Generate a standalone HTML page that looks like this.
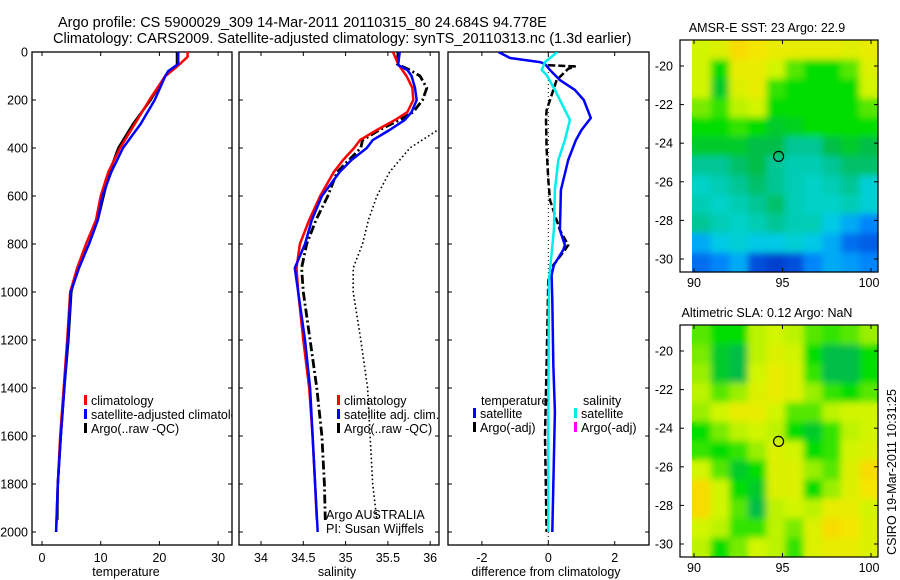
<!DOCTYPE html>
<html><head><meta charset="utf-8"><style>
html,body{margin:0;padding:0;background:#fff;}
svg{display:block;font-family:"Liberation Sans",sans-serif;}
</style></head><body>
<svg id="fig" width="900" height="580" viewBox="0 0 900 580" xmlns="http://www.w3.org/2000/svg">
<defs><filter id="smooth" x="-5%" y="-5%" width="110%" height="110%"><feGaussianBlur stdDeviation="3.5"/></filter></defs>
<rect width="900" height="580" fill="#fff"/>
<text x="58" y="27" font-size="14.5">Argo profile: CS 5900029_309 14-Mar-2011 20110315_80 24.684S 94.778E</text>
<text x="53" y="43" font-size="14.5">Climatology: CARS2009. Satellite-adjusted climatology: synTS_20110313.nc (1.3d earlier)</text>
<text x="767" y="32" font-size="12.5" text-anchor="middle">AMSR-E SST: 23 Argo: 22.9</text>
<text x="767" y="317" font-size="12.5" text-anchor="middle">Altimetric SLA: 0.12 Argo: NaN</text>
<text transform="translate(896,472) rotate(-90)" font-size="12.5" text-anchor="middle">CSIRO 19-Mar-2011 10:31:25</text>
<g id="layer"></g>
</svg>
<script>
// ---------- data ----------
const depthTicks = [0,200,400,600,800,1000,1200,1400,1600,1800,2000];
const tempTicks = [0,10,20,30];
const salTicks = [34,34.5,35,35.5,36];
const salTickLabels = ["34","34.5","35","35.5","36"];
const diffTicks = [-2,0,2];
const latTicks = [-20,-22,-24,-26,-28,-30];
const lonTicks = [90,95,100];

const tClimDepth = [0,20,50,100,200,300,400,500,600,700,800,900,1000,1200,1400,1600,1800,2000];
const tClim = [24.8,24.8,23.5,21,18.3,15.8,13.3,11.3,10,9.2,7.5,6,4.8,4.3,3.7,3.1,2.7,2.4];
const tSatDepth = [0,50,80,100,200,300,400,500,600,700,800,900,1000,1200,1400,1600,1800,2000];
const tSat = [23.2,23.2,21.5,21,19.2,16.8,13.8,11.8,10.3,9.5,8,6.3,4.9,4.4,3.8,3.2,2.7,2.4];
const tArgoDepth = [0,60,100,200,300,400,500,600,700,800,900,1000,1200,1400,1600,1800,1950];
const tArgo = [23,23,21,18.5,15.5,13,11.5,10.5,9.5,8,6,5,4.5,3.8,3.2,2.7,2.6];

const sClimDepth = [0,50,100,150,200,250,280,325,367,400,450,500,600,700,800,900,1000,1200,1400,1600,1800,1950];
const sClim = [35.56,35.62,35.72,35.79,35.8,35.73,35.6,35.37,35.17,35.1,34.97,34.86,34.7,34.57,34.46,34.42,34.44,34.5,34.57,34.61,34.64,34.66];
const sSatDepth = [0,54,75,100,150,200,250,283,325,367,400,450,500,600,700,800,900,1000,1200,1400,1600,1800,2000];
const sSat = [35.64,35.62,35.73,35.78,35.82,35.84,35.78,35.7,35.52,35.32,35.25,35.07,34.93,34.72,34.6,34.52,34.4,34.44,34.52,34.58,34.61,34.64,34.67];
const sArgoDepth = [0,50,75,100,150,200,250,283,325,367,400,500,600,700,800,900,1000,1200,1400,1600,1800,1950];
const sArgo = [35.62,35.61,35.76,35.88,35.96,35.91,35.8,35.64,35.4,35.2,35.18,34.9,34.79,34.65,34.54,34.48,34.5,34.58,34.66,34.72,34.75,34.76];
const sDotDepth = [300,400,500,600,700,800,900,1000,1200,1400,1600,1800,1950];
const sDot = [36.2,35.76,35.52,35.37,35.27,35.2,35.09,35.09,35.18,35.26,35.29,35.32,35.37];

const dTempSatDepth = [0,25,42,50,75,117,158,200,275,325,367,450,575,742,804,825,888,929,1033,1300,1500,2000];
const dTempSat = [-1.5,-1.15,-0.25,-0.1,0.05,0.35,0.8,1.07,1.28,1.0,0.83,0.6,0.38,0.35,0.5,0.45,0.17,0.1,0.12,0.15,0.2,0.12];
const dSalSatDepth = [0,42,75,96,158,242,283,367,450,575,742,950,1500,2000];
const dSalSat = [0.27,-0.1,-0.2,-0.05,0.2,0.5,0.65,0.5,0.3,0.2,0.17,0.02,0.0,0.0];
const dTempArgoDepth = [55,60,70,117,200,242,283,400,533,617,742,804,825,888,950,1300,1600,2000];
const dTempArgo = [0.0,0.8,0.6,0.25,0.05,-0.05,-0.07,-0.05,0,0.05,0.35,0.6,0.5,0.15,0,-0.05,-0.1,-0.05];

const sstGrid = [
[0.70,0.72,0.80,0.78,0.75,0.75,0.75,0.75,0.73,0.75],
[0.70,0.55,0.75,0.75,0.70,0.60,0.55,0.55,0.60,0.72],
[0.70,0.52,0.72,0.75,0.58,0.55,0.55,0.55,0.55,0.70],
[0.62,0.58,0.68,0.70,0.55,0.55,0.55,0.55,0.55,0.60],
[0.55,0.55,0.58,0.55,0.52,0.53,0.55,0.55,0.55,0.55],
[0.52,0.52,0.52,0.50,0.50,0.45,0.45,0.50,0.52,0.50],
[0.45,0.45,0.48,0.50,0.45,0.42,0.42,0.45,0.48,0.48],
[0.40,0.42,0.45,0.48,0.45,0.42,0.40,0.42,0.45,0.38],
[0.42,0.40,0.42,0.45,0.48,0.42,0.40,0.40,0.42,0.38],
[0.45,0.42,0.40,0.42,0.45,0.42,0.42,0.35,0.30,0.25],
[0.30,0.35,0.38,0.35,0.35,0.38,0.35,0.30,0.22,0.20],
[0.22,0.25,0.30,0.18,0.15,0.18,0.25,0.30,0.28,0.25]];
const slaGrid = [
[0.60,0.55,0.55,0.68,0.70,0.68,0.60,0.58,0.60,0.65],
[0.62,0.52,0.50,0.68,0.72,0.70,0.55,0.50,0.50,0.55],
[0.65,0.52,0.50,0.70,0.75,0.72,0.58,0.50,0.50,0.55],
[0.68,0.60,0.65,0.72,0.75,0.72,0.65,0.58,0.55,0.60],
[0.65,0.70,0.75,0.75,0.70,0.60,0.60,0.68,0.70,0.70],
[0.55,0.62,0.68,0.70,0.68,0.55,0.52,0.58,0.68,0.70],
[0.58,0.55,0.58,0.65,0.72,0.70,0.55,0.58,0.70,0.72],
[0.70,0.60,0.52,0.55,0.72,0.72,0.65,0.60,0.72,0.80],
[0.80,0.70,0.55,0.52,0.72,0.72,0.55,0.65,0.72,0.78],
[0.80,0.70,0.60,0.50,0.68,0.70,0.68,0.75,0.75,0.70],
[0.70,0.68,0.58,0.58,0.68,0.62,0.72,0.80,0.78,0.72],
[0.68,0.55,0.62,0.70,0.68,0.58,0.72,0.75,0.75,0.72]];
const argoLon = [94.778];
const argoLat = [-24.684];

// ---------- helpers ----------
const NS="http://www.w3.org/2000/svg";
const layer=document.getElementById('layer');
function mk(tag,attrs,parent){const e=document.createElementNS(NS,tag);for(const k in attrs)e.setAttribute(k,attrs[k]);(parent||layer).appendChild(e);return e;}
const yDepth = d => 52 + d*0.24;
const PBOT = 545;
const xT = v => 42 + v*5.87;
const xS = v => 261 + (v-34)*84.6;
const xD = v => 548.3 + v*33.2;

function panel(name,x0,x1,xf,ticks,labels,xlabel,showY,lx){
  const g=mk('g',{});
  
  
  const cp=mk('clipPath',{id:'clip-'+name},g);
  mk('rect',{x:x0,y:52,width:x1-x0,height:PBOT-52},cp);
  mk('rect',{x:x0,y:52,width:x1-x0,height:PBOT-52,fill:'none',stroke:'#000','stroke-width':1.3},g);
  ticks.forEach((t,i)=>{const x=xf(t);
    if(x>=x0&&x<=x1+1){mk('line',{x1:x,x2:x,y1:PBOT,y2:PBOT-4,stroke:'#000'},g);mk('line',{x1:x,x2:x,y1:52,y2:56,stroke:'#000'},g);}
    const tl=mk('text',{x:Math.min(x,x1-8),y:562,'font-size':12.5,'text-anchor':'middle'},g);tl.textContent=labels[i];
    
    
  });
  depthTicks.forEach(d=>{const y=yDepth(d);
    mk('line',{x1:x0,x2:x0+4,y1:y,y2:y,stroke:'#000'},g);mk('line',{x1:x1,x2:x1-4,y1:y,y2:y,stroke:'#000'},g);
    if(showY){const t=mk('text',{x:28,y:y+4.5,'font-size':12.5,'text-anchor':'end'},g);t.textContent=d;
      
      }
  });
  const xl=mk('text',{x:lx,y:576,'font-size':12.5,'text-anchor':'middle'},g);xl.textContent=xlabel;
  
  
  return g;
}
function line(g,name,xf,vals,deps,color,w,dash,clipName){
  const pts=vals.map((v,i)=>xf(v).toFixed(1)+','+yDepth(deps[i]).toFixed(1)).join(' ');
  const p=mk('polyline',{points:pts,fill:'none',stroke:color,'stroke-width':w,'stroke-linejoin':'round','clip-path':'url(#clip-'+clipName+')'},g);
  if(dash)p.setAttribute('stroke-dasharray',dash);
  
  
}
function legend(g,name,x,y,color,label){
  const lg=mk('g',{},g);
  
  
  mk('rect',{x:x,y:y-10,width:3,height:10,fill:color},lg);
  const t=mk('text',{x:x+7,y:y,'font-size':12.5},lg);t.textContent=label;
}

// ---------- temperature panel ----------
const g1=panel('temperature-panel',32,232,xT,tempTicks,tempTicks.map(String),'temperature',true,126);
line(g1,'temp-argo-line',xT,tArgo,tArgoDepth,'#000',2.5,null,'temperature-panel');
line(g1,'temp-climatology-line',xT,tClim,tClimDepth,'#f00',2.5,null,'temperature-panel');
line(g1,'temp-satellite-line',xT,tSat,tSatDepth,'#00f',2.5,null,'temperature-panel');
const lc1=mk('g',{},g1);
lc1.setAttribute('clip-path','url(#clip-temperature-panel)');
legend(lc1,'legend-climatology',84,405,'#f00','climatology');
legend(lc1,'legend-satellite-adjusted',84,419,'#00f','satellite-adjusted climatology');
legend(lc1,'legend-argo-raw',84,433,'#000','Argo(..raw -QC)');

// ---------- salinity panel ----------
const g2=panel('salinity-panel',239,439,xS,salTicks,salTickLabels,'salinity',false,337);
line(g2,'sal-dotted-line',xS,sDot,sDotDepth,'#000',1.6,'1.6 2.6','salinity-panel');
line(g2,'sal-argo-line',xS,sArgo,sArgoDepth,'#000',2.8,'9 3 2 3','salinity-panel');
line(g2,'sal-climatology-line',xS,sClim,sClimDepth,'#f00',2.5,null,'salinity-panel');
line(g2,'sal-satellite-line',xS,sSat,sSatDepth,'#00f',2.5,null,'salinity-panel');
legend(g2,'legend-sal-climatology',337,405,'#f00','climatology');
legend(g2,'legend-sal-satellite',337,419,'#00f','satellite adj. clim.');
legend(g2,'legend-sal-argo',337,433,'#000','Argo(..raw -QC)');
const a1=mk('text',{x:326,y:519,'font-size':12.5},g2);a1.textContent='Argo AUSTRALIA';


const a2=mk('text',{x:326,y:533,'font-size':12.5},g2);a2.textContent='PI: Susan Wijffels';



// ---------- difference panel ----------
const g3=panel('difference-panel',448,649,xD,diffTicks,diffTicks.map(String),'difference from climatology',false,546);
mk('line',{x1:xD(0),x2:xD(0),y1:52,y2:PBOT,stroke:'#000','stroke-width':1,'stroke-dasharray':'1 3'},g3);
line(g3,'diff-temp-argo-line',xD,dTempArgo,dTempArgoDepth,'#000',2.5,'7 3','difference-panel');
line(g3,'diff-temp-satellite-line',xD,dTempSat,dTempSatDepth,'#00f',2.5,null,'difference-panel');
line(g3,'diff-sal-satellite-line',xD,dSalSat,dSalSatDepth,'#0ee',2.5,null,'difference-panel');
const th=mk('text',{x:481,y:405,'font-size':12.5},g3);th.textContent='temperature';


const sh=mk('text',{x:583,y:405,'font-size':12.5},g3);sh.textContent='salinity';


legend(g3,'legend-temp-satellite',473,418,'#00f','satellite');
legend(g3,'legend-temp-argo',473,432,'#000','Argo(-adj)');
legend(g3,'legend-sal-satellite-diff',574,418,'#0ee','satellite');
legend(g3,'legend-sal-argo-diff',574,432,'#f0f','Argo(-adj)');

// ---------- maps ----------
const stops=[[0.10,[0,40,180]],[0.18,[0,80,220]],[0.26,[0,140,255]],[0.34,[0,200,235]],[0.40,[0,210,200]],[0.46,[0,195,140]],[0.50,[0,190,70]],[0.55,[0,222,0]],[0.62,[120,235,0]],[0.70,[210,245,0]],[0.78,[245,230,0]],[0.85,[255,190,0]],[0.95,[255,130,0]]];
function cmap(v){if(v<=stops[0][0])return stops[0][1];for(let i=1;i<stops.length;i++){if(v<=stops[i][0]){const a=stops[i-1],b=stops[i],t=(v-a[0])/(b[0]-a[0]);return a[1].map((c,k)=>Math.round(c+(b[1][k]-c)*t));}}return stops[stops.length-1][1];}
function map(name,grid,top){
  const g=mk('g',{});
  
  
  const bot=top+232, L=692, R=878;
  const xLon=v=>694+(v-90)*17.7;
  const yLat=v=>top+26+(-20-v)*19.3;
  const rows=grid.length, cols=grid[0].length, cw=(R-L)/cols, ch=(bot-top)/rows;
  const cp=mk('clipPath',{id:'clip-'+name},g);
  mk('rect',{x:L,y:top,width:R-L,height:bot-top},cp);
  const base=mk('g',{},g);
  const soft=mk('g',{'clip-path':'url(#clip-'+name+')'},g);
  const blur=mk('g',{filter:'url(#smooth)'},soft);
  grid.forEach((row,r)=>row.forEach((v,c)=>{const col='rgb('+cmap(v).join(',')+')';
    const cell=mk('rect',{x:(L+c*cw).toFixed(2),y:(top+r*ch).toFixed(2),width:(cw+0.6).toFixed(2),height:(ch+0.6).toFixed(2),fill:col},base);
    
    
    mk('rect',{x:(L+c*cw).toFixed(2),y:(top+r*ch).toFixed(2),width:(cw+0.6).toFixed(2),height:(ch+0.6).toFixed(2),fill:col},blur);
  }));
  mk('rect',{x:680,y:top,width:198,height:232,fill:'none',stroke:'#000','stroke-width':1.2},g);
  latTicks.forEach(t=>{const y=yLat(t);mk('line',{x1:680,x2:684,y1:y,y2:y,stroke:'#000'},g);mk('line',{x1:878,x2:874,y1:y,y2:y,stroke:'#000'},g);
    const tl=mk('text',{x:673,y:y+4.5,'font-size':12.5,'text-anchor':'end'},g);tl.textContent=String(t);
    
    });
  lonTicks.forEach(t=>{const x=xLon(t);mk('line',{x1:x,x2:x,y1:bot,y2:bot-4,stroke:'#000'},g);mk('line',{x1:x,x2:x,y1:top,y2:top+4,stroke:'#000'},g);
    const tl=mk('text',{x:Math.min(x,869),y:bot+15,'font-size':12.5,'text-anchor':'middle'},g);tl.textContent=t;
    
    });
  argoLon.forEach((lo,i)=>{const m=mk('circle',{cx:xLon(lo),cy:yLat(argoLat[i]),r:5,fill:'none',stroke:'#000','stroke-width':1.2},g);
    
    });
}
map('sst-map',sstGrid,40);
map('sla-map',slaGrid,325);
</script>
</body></html>
